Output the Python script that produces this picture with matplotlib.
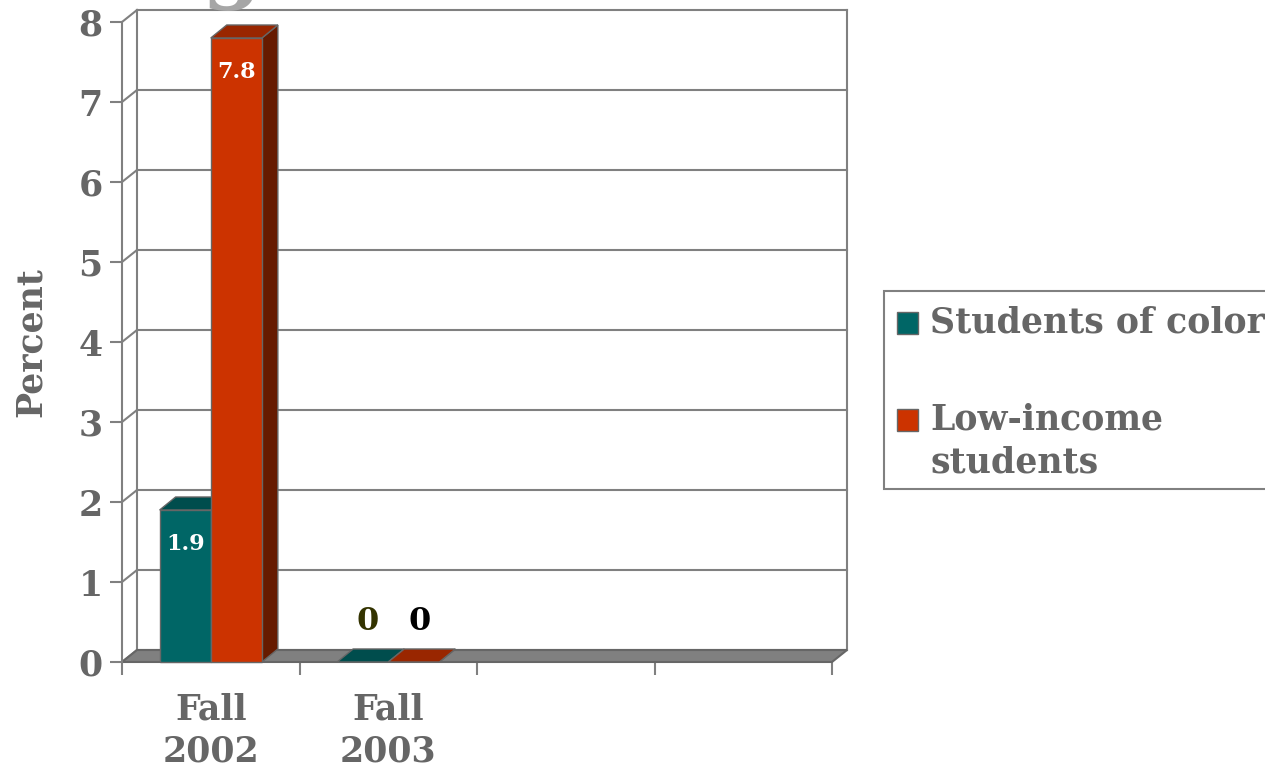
import matplotlib
matplotlib.use("Agg")
import matplotlib.pyplot as plt
from matplotlib.patches import Polygon, Rectangle

# chart data
categories = ["Fall\n2002", "Fall\n2003", "", ""]
series_names = ["Students of color", "Low-income\nstudents"]
students_of_color = [1.9, 0]
low_income = [7.8, 0]
y_ticks = [0, 1, 2, 3, 4, 5, 6, 7, 8]

W, H = 1265, 772
TEXT = "#666666"
EDGE = "#666666"
GRID = "#808080"

plt.rcParams["font.family"] = "DejaVu Serif"
plt.rcParams["font.weight"] = "bold"
plt.rcParams["axes.labelweight"] = "bold"

fig = plt.figure(figsize=(W / 100, H / 100), dpi=100)
# front plane of the 3d box, in pixels: x 122..832, y 22..662
ax = fig.add_axes([122 / W, (H - 662) / H, 710 / W, 640 / H])
ax.set_xlim(0, len(categories))
ax.set_ylim(0, 8)
ax.patch.set_visible(False)

px_x = len(categories) / 710.0
px_y = 8 / 640.0
# depth of the walls and of the bars
wdx, wdy = 15 * px_x, 12 * px_y
bdx, bdy = 16 * px_x, 13 * px_y

# back wall, left wall and gridlines
for v in y_ticks:
    ax.plot([0, wdx], [v, v + wdy], color=GRID, lw=1.5, clip_on=False, zorder=1)
    ax.plot([wdx, len(categories) + wdx], [v + wdy, v + wdy], color=GRID, lw=1.5,
            clip_on=False, zorder=1)
ax.plot([wdx, wdx], [wdy, 8 + wdy], color=GRID, lw=1.5, clip_on=False, zorder=1)
ax.plot([len(categories) + wdx] * 2, [wdy, 8 + wdy], color=GRID, lw=1.5,
        clip_on=False, zorder=1)

# floor
n = len(categories)
ax.add_patch(Polygon([(0, 0), (n, 0), (n + wdx, wdy), (wdx, wdy)], closed=True,
                     facecolor="#808080", edgecolor=EDGE, lw=1.5, clip_on=False, zorder=2))

bar_w = 0.288
colors = [("#006666", "#004d4d", "#003d3d"), ("#cc3300", "#992600", "#661a00")]


def draw_bar(x0, v, cols):
    front, top, side = cols
    x1 = x0 + bar_w
    ax.add_patch(Polygon([(x1, 0), (x1 + bdx, bdy), (x1 + bdx, v + bdy), (x1, v)],
                         facecolor=side, edgecolor=EDGE, lw=1, clip_on=False, zorder=3))
    ax.add_patch(Polygon([(x0, v), (x1, v), (x1 + bdx, v + bdy), (x0 + bdx, v + bdy)],
                         facecolor=top, edgecolor=EDGE, lw=1, clip_on=False, zorder=3))
    if v > 0:
        ax.add_patch(Rectangle((x0, 0), bar_w, v, facecolor=front, edgecolor=EDGE,
                               lw=1, clip_on=False, zorder=3))


zero_colors = ["#333300", "black"]
for i in range(len(students_of_color)):
    vals = [students_of_color[i], low_income[i]]
    for j, v in enumerate(vals):
        x0 = i + 0.5 - bar_w + j * bar_w
        draw_bar(x0, v, colors[j])
        xc = x0 + bar_w / 2
        if v > 0:
            ax.text(xc, v - 0.42, f"{v:.1f}", color="white", fontsize=16,
                    ha="center", va="center", zorder=5)
        else:
            ax.text(xc + 0.03, 0.5, "0", color=zero_colors[j], fontsize=23,
                    ha="center", va="center", zorder=5)

# axes, ticks, labels
for s in ["top", "right", "bottom"]:
    ax.spines[s].set_visible(False)
ax.spines["left"].set_color(GRID)
ax.spines["left"].set_linewidth(1.5)
ax.set_yticks(y_ticks)
ax.set_yticklabels([str(t) for t in y_ticks], fontsize=25, color=TEXT)
ax.tick_params(axis="y", length=9, width=1.5, color=GRID, pad=5)
ax.set_xticks(range(n + 1))
ax.set_xticklabels([""] * (n + 1))
ax.tick_params(axis="x", which="major", length=9, width=1.5, color=GRID)
ax.set_xticks([i + 0.5 for i in range(n)], minor=True)
ax.set_xticklabels(categories, minor=True, fontsize=25, color=TEXT, linespacing=1.3)
ax.tick_params(axis="x", which="minor", length=0, pad=22)
ax.set_ylabel("Percent", fontsize=25, color=TEXT, labelpad=22)

# legend box, cut off at the right edge like the original
def fx(x):
    return x / W


def fy(y):
    return 1 - y / H


fig.patches.append(Rectangle((fx(884), fy(489)), fx(1275) - fx(884), fy(291) - fy(489),
                             transform=fig.transFigure, facecolor="white",
                             edgecolor=GRID, lw=1.5))
handle_y = [323, 420]
text_y = [323, 403]
for k, name in enumerate(series_names):
    fig.patches.append(Rectangle((fx(897), fy(handle_y[k] + 11)), fx(21), 22 / H,
                                 transform=fig.transFigure, facecolor=colors[k][0],
                                 edgecolor=EDGE, lw=1))
    fig.text(fx(930), fy(text_y[k]), name, fontsize=25, color=TEXT, ha="left",
             va="center" if k == 0 else "top", linespacing=1.3)

# remains of the slide title above the chart
fig.text(fx(232), 1 + 8 / H, "g", fontsize=62, color="#a6a6a6", ha="center",
         va="baseline")

fig.savefig("out.png", dpi=100)
